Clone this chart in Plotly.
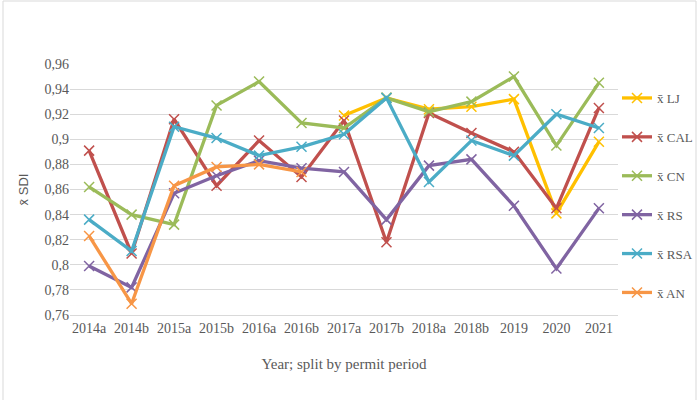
import plotly.graph_objects as go

categories = ["2014a", "2014b", "2015a", "2015b", "2016a", "2016b", "2017a",
              "2017b", "2018a", "2018b", "2019", "2020", "2021"]

lj  = [None, None, None, None, None, None, 0.919, 0.933, 0.924, 0.926, 0.932, 0.841, 0.898]
cal = [0.891, 0.809, 0.916, 0.863, 0.899, 0.870, 0.915, 0.818, 0.921, 0.905, 0.890, 0.845, 0.925]
cn  = [0.862, 0.840, 0.832, 0.927, 0.946, 0.913, 0.909, 0.933, 0.922, 0.930, 0.950, 0.895, 0.945]
rs  = [0.799, 0.782, 0.857, 0.871, 0.883, 0.877, 0.874, 0.836, 0.879, 0.884, 0.847, 0.797, 0.845]
rsa = [0.836, 0.811, 0.910, 0.901, 0.887, 0.894, 0.904, 0.933, 0.866, 0.899, 0.887, 0.920, 0.909]
an  = [0.823, 0.769, 0.863, 0.878, 0.880, 0.874, None, None, None, None, None, None, None]

series_names = ["x̄ LJ", "x̄ CAL", "x̄ CN", "x̄ RS", "x̄ RSA", "x̄ AN"]
series_values = [lj, cal, cn, rs, rsa, an]
colors = ["#FFC000", "#C0504D", "#9BBB59", "#8064A2", "#4BACC6", "#F79646"]

y_tickvals = [0.76, 0.78, 0.80, 0.82, 0.84, 0.86, 0.88, 0.90, 0.92, 0.94, 0.96]
y_ticktext = ["0,76", "0,78", "0,8", "0,82", "0,84", "0,86", "0,88", "0,9", "0,92", "0,94", "0,96"]

fig = go.Figure()
for name, vals, col in zip(series_names, series_values, colors):
    fig.add_trace(go.Scatter(
        x=categories, y=vals, name=name, mode="lines+markers",
        line=dict(color=col, width=3.3),
        marker=dict(symbol="x-thin", size=10, line=dict(color=col, width=1.5)),
        legendgroup=name,
    ))

W, H = 700, 400
ml, mr, mt, mb = 70, 82, 64, 85
pw, ph = W - ml - mr, H - mt - mb

fig.update_layout(
    width=W, height=H,
    margin=dict(l=ml, r=mr, t=mt, b=mb, autoexpand=False),
    paper_bgcolor="white", plot_bgcolor="white",
    font=dict(family="Liberation Serif", size=14, color="#595959"),
    showlegend=True,
    legend=dict(
        x=(617 - ml) / pw, y=(H - mb - 83) / ph, xanchor="left", yanchor="top",
        traceorder="grouped", tracegroupgap=19,
        font=dict(family="Liberation Serif", size=13, color="#595959"),
        itemwidth=30, bgcolor="rgba(0,0,0,0)",
    ),
    xaxis=dict(
        categoryorder="array", categoryarray=categories,
        showgrid=False, showline=True, linecolor="#D9D9D9", linewidth=1,
        ticks="", tickfont=dict(family="Liberation Serif", size=14, color="#595959"),
        title=dict(text="Year; split by permit period", standoff=23,
                   font=dict(family="Liberation Serif", size=15, color="#595959")),
        range=[-0.45, len(categories) - 0.55],
    ),
    yaxis=dict(
        range=[0.76, 0.96], tickvals=y_tickvals, ticktext=y_ticktext,
        showgrid=True, gridcolor="#D9D9D9", gridwidth=1, zeroline=False,
        ticks="", tickfont=dict(family="Liberation Serif", size=14, color="#595959"),
        title=dict(text="x̄ SDI", standoff=12,
                   font=dict(family="Liberation Sans", size=13, color="#595959")),
    ),
    shapes=[dict(type="rect", xref="paper", yref="paper",
                 x0=(3 - ml) / pw, x1=(696 - ml) / pw,
                 y0=(H - mb - 410) / ph, y1=(H - mb - 1) / ph,
                 line=dict(color="#D9D9D9", width=1), fillcolor="rgba(0,0,0,0)",
                 layer="below")],
)

fig.write_html("out.html", config={"displayModeBar": False},
               post_script="document.body.style.margin='0';")
